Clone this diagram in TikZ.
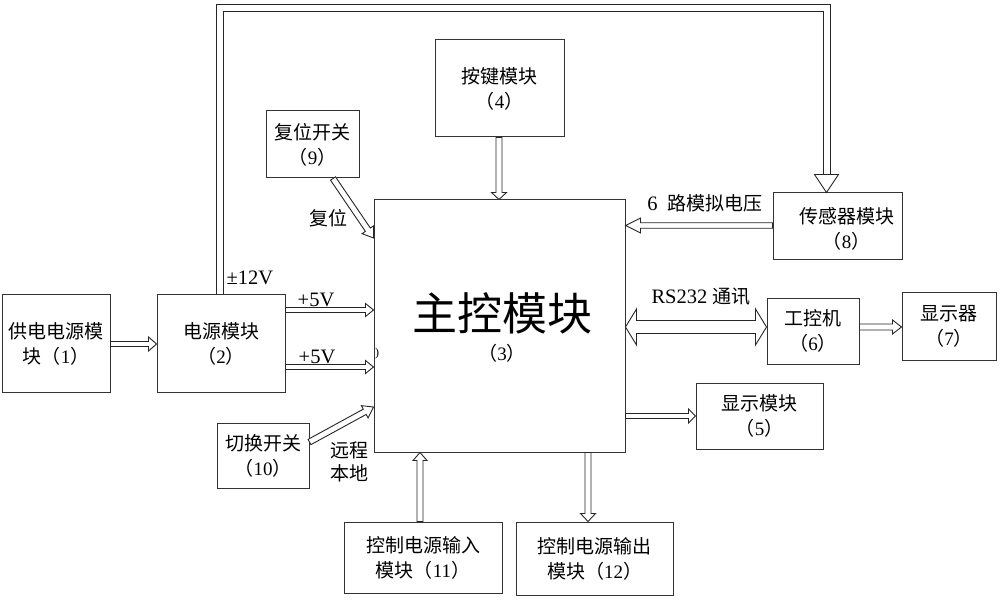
\documentclass[tikz,border=0pt]{standalone}
\usepackage{fontspec}
\setmainfont{Liberation Serif}
\newfontfamily\cjk{Noto Sans CJK SC}
\usetikzlibrary{calc}
\newcommand\pn[1]{（{\rmfamily #1}）}
\newcommand\hget[2]{%
  \path let \p1=(#1), \p2=(#2) in
    \pgfextra{\pgfmathsetmacro\hA{atan2(\y2-\y1,\x2-\x1)}\global\let\hA\hA
      \pgfmathsetmacro\hL{veclen(\x2-\x1,\y2-\y1)}\global\let\hL\hL
      \xdef\hX{\x1}\xdef\hY{\y1}};%
}
% hollow single arrow: #1 start, #2 tip, #3 shaft half width, #4 head half width, #5 head length (pt)
\newcommand\harrow[5]{%
  \hget{#1}{#2}%
  \draw[harr, shift={(\hX,\hY)}, rotate=\hA]
    (0pt,-#3pt) -- ({\hL pt-#5pt},-#3pt) -- ({\hL pt-#5pt},-#4pt) -- (\hL pt,0pt)
    -- ({\hL pt-#5pt},#4pt) -- ({\hL pt-#5pt},#3pt) -- (0pt,#3pt) -- cycle;
}
% hollow double arrow
\newcommand\hdarrow[5]{%
  \hget{#1}{#2}%
  \draw[harr, shift={(\hX,\hY)}, rotate=\hA]
    (0pt,0pt) -- (#5pt,#4pt) -- (#5pt,#3pt) -- ({\hL pt-#5pt},#3pt) -- ({\hL pt-#5pt},#4pt)
    -- (\hL pt,0pt) -- ({\hL pt-#5pt},-#4pt) -- ({\hL pt-#5pt},-#3pt) -- (#5pt,-#3pt) -- (#5pt,-#4pt) -- cycle;
}
\begin{document}
\begin{tikzpicture}[x=1pt,y=-1pt,
  box/.style={draw=black!80, line width=1pt, inner sep=0pt, align=center,
    font=\cjk\fontsize{19}{25}\selectfont},
  lbl/.style={inner sep=0pt, font=\fontsize{20.5}{25}\selectfont},
  clbl/.style={inner sep=0pt, align=center, font=\cjk\fontsize{19}{25}\selectfont},
  harr/.style={draw=black!85, fill=white, line width=0.9pt, line join=miter}]
\useasboundingbox (0,0) rectangle (1000,601);
\fill[white] (0,0) rectangle (1000,601);

% boxes
\node[box, minimum width=108pt, minimum height=97pt] (n1) at (56,343.5) {供电电源模\\块\pn{1}};
\node[box, minimum width=128pt, minimum height=97pt] (n2) at (221,343.5) {电源模块\\\pn{2}};
\node[box, minimum width=251pt, minimum height=252pt] (n3) at (499.5,326) {};
\node[box, minimum width=129pt, minimum height=97pt] (n4) at (499.5,88.5) {按键模块\\\pn{4}};
\node[box, minimum width=127pt, minimum height=66pt] (n5) at (759.5,416) {显示模块\\\pn{5}};
\node[box, minimum width=92pt, minimum height=66pt] (n6) at (813,331) {工控机\\\pn{6}};
\node[box, minimum width=94pt, minimum height=67pt] (n7) at (949,326.5) {显示器\\\pn{7}};
\node[box, minimum width=129pt, minimum height=67pt] (n8) at (837.5,226.5) {};
\node[box, minimum width=93pt, minimum height=67pt] (n9) at (312.5,144.5) {复位开关\\\pn{9}};
\node[box, minimum width=92pt, minimum height=65pt] (n10) at (263,455.5) {切换开关\\\pn{10}};
\node[box, minimum width=158pt, minimum height=71pt] (n11) at (423,557.5) {控制电源输入\\模块\pn{11}};
\node[box, minimum width=157pt, minimum height=73pt] (n12) at (594.5,558.5) {控制电源输出\\模块\pn{12}};

% texts inside boxes placed separately
\node[inner sep=0pt, font=\cjk\fontsize{45}{45}\selectfont] (n3t) at (502,313) {主控模块};
\node[clbl] (n3n) at (502,353) {\pn{3}};
\node[clbl] (n8t) at (846.5,228.5) {传感器模块\\\pn{8}};

% labels
\node[lbl] (l12) at (250,278) {±12V};
\node[lbl] (l5a) at (316,300) {+5V};
\node[lbl] (l5b) at (317,357) {+5V};
\node[clbl] (lfw) at (328,218) {复位};
\node[clbl] (lyc) at (349,450) {远程};
\node[clbl] (lbd) at (349,473) {本地};
\node[lbl] (l6) at (705,203) {6\ \ {\cjk\fontsize{19}{25}\selectfont 路模拟电压}};
\node[lbl] (lrs) at (701,297) {RS232 {\cjk\fontsize{19}{25}\selectfont 通讯}};
\node[inner sep=0pt, font=\fontsize{12}{12}\selectfont] (pm) at (377,354) {)};

% loop arrow from power module to sensor module
\coordinate (lpA) at (n2.north -| 219.5,0);
\coordinate (lpB) at (n8.north -| 826.5,0);
\coordinate (lpC) at ([yshift=18pt]lpB);
\draw[black!85, line width=8pt, line join=miter] (lpA) -- (lpA |- 0,8.5) -- (lpC |- 0,8.5) -- (lpC);
\draw[white, line width=6pt, line join=miter, shorten <=0.6pt] (lpA) -- (lpA |- 0,8.5) -- (lpC |- 0,8.5) -- (lpC);
\harrow{lpC}{lpB}{3.5}{12}{18}

% arrows
\harrow{n1.east |- 0,344}{n2.west |- 0,344}{2.5}{7}{8}
\harrow{n2.east |- 0,310}{n3.west |- 0,310}{2.5}{6.5}{8}
\harrow{n2.east |- 0,367}{n3.west |- 0,367}{2.5}{6.5}{8}
\harrow{n10.east |- 0,442}{n3.west |- 0,407}{3}{7}{10}
\harrow{n9.south -| 333,0}{n3.west |- 0,238}{3}{7}{10}
\harrow{n4.south -| 499,0}{n3.north -| 499,0}{3}{7.5}{7}
\harrow{n8.west |- 0,225.5}{n3.east |- 0,225.5}{2.75}{7.5}{15}
\hdarrow{n3.east |- 0,327}{n6.west |- 0,327}{6.5}{18}{11}
\harrow{n6.east |- 0,327}{n7.west |- 0,327}{3}{7}{9}
\harrow{n3.east |- 0,416}{n5.west |- 0,416}{2.5}{7}{7}
\harrow{n11.north -| 420,0}{n3.south -| 420,0}{3}{7}{8}
\harrow{n3.south -| 588,0}{n12.north -| 588,0}{3}{7.5}{8}
\end{tikzpicture}
\end{document}
